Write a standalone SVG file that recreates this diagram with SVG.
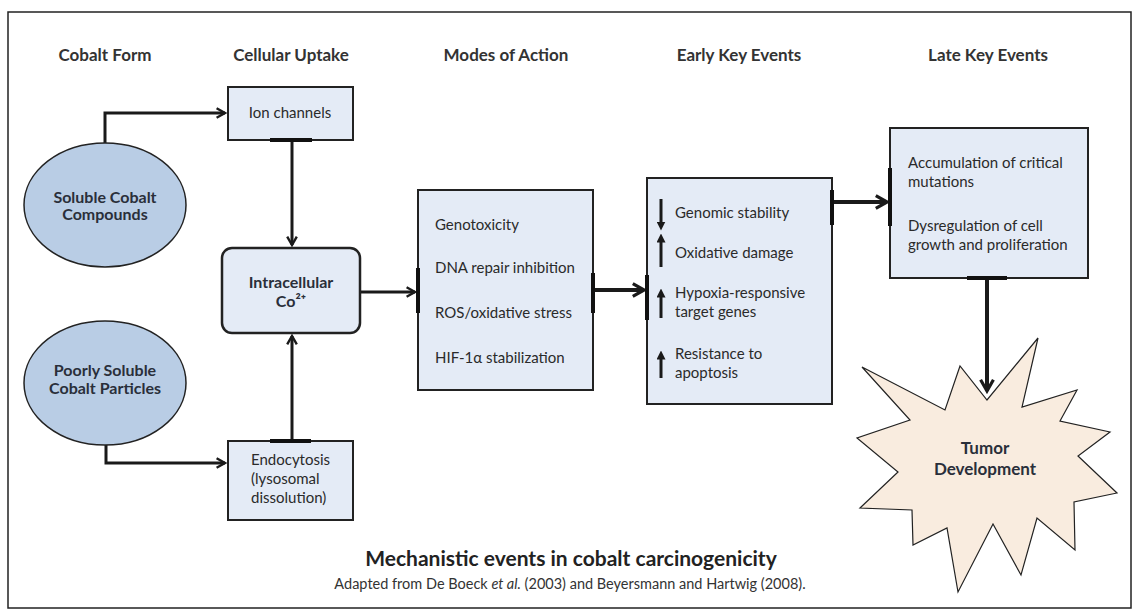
<svg xmlns="http://www.w3.org/2000/svg" width="1135" height="610" viewBox="0 0 1135 610">
<style>
text{font-family:Lato,"Open Sans","Liberation Sans",sans-serif;fill:#2a2a2a}
.hdr{font-size:17px;font-weight:bold;text-anchor:middle;fill:#333}
.box{fill:#e4ebf6;stroke:#222;stroke-width:2}
.circ{fill:#b9cde5;stroke:#222;stroke-width:1.5}
.lbl{font-size:15px}
.blbl{font-size:16px;font-weight:bold;text-anchor:middle;fill:#2a2f3a}
.mid{text-anchor:middle}
.con{fill:none;stroke:#1a1a1a;stroke-width:3}
.thick{fill:none;stroke:#1a1a1a;stroke-width:4}
.bar{stroke:#111;stroke-width:4}
.ud{stroke:#1a1a1a;stroke-width:3}
</style>
<defs>
<marker id="ah" viewBox="0 0 10 10" refX="8" refY="5" markerWidth="4" markerHeight="4" orient="auto" markerUnits="strokeWidth">
<path d="M1,1 L8,5 L1,9" fill="none" stroke="#1a1a1a" stroke-width="2"/>
</marker>
<marker id="tri" viewBox="0 0 10 10" refX="5" refY="5" markerWidth="3" markerHeight="3" orient="auto" markerUnits="strokeWidth">
<path d="M0,0 L10,5 L0,10 Z" fill="#1a1a1a"/>
</marker>
</defs>
<rect x="8" y="12" width="1123" height="596" fill="#fff" stroke="#222" stroke-width="1.5"/>
<g id="headers">
<text class="hdr" x="105" y="61">Cobalt Form</text>
<text class="hdr" x="291" y="61">Cellular Uptake</text>
<text class="hdr" x="506" y="61">Modes of Action</text>
<text class="hdr" x="739" y="61">Early Key Events</text>
<text class="hdr" x="988" y="61">Late Key Events</text>
</g>
<g id="connectors">
<path class="con" d="M105,143 V113 H225" marker-end="url(#ah)"/>
<path class="con" d="M292,140 V245" marker-end="url(#ah)"/>
<path class="con" d="M106,445 V463 H225" marker-end="url(#ah)"/>
<path class="con" d="M292,441 V336" marker-end="url(#ah)"/>
<path class="con" d="M360,292 H415" marker-end="url(#ah)"/>
<path class="thick" d="M593,290 H644" marker-end="url(#ah)"/>
<path class="thick" d="M832,202 H887" marker-end="url(#ah)"/>
<path class="thick" d="M987,278 V391" marker-end="url(#ah)"/>
</g>
<g id="soluble">
<ellipse class="circ" cx="105" cy="205" rx="81" ry="62"/>
<text class="blbl" x="105" y="203">Soluble Cobalt</text>
<text class="blbl" x="105" y="220">Compounds</text>
</g>
<g id="poorly">
<ellipse class="circ" cx="105" cy="383" rx="81" ry="62"/>
<text class="blbl" x="105" y="376">Poorly Soluble</text>
<text class="blbl" x="105" y="394">Cobalt Particles</text>
</g>
<g id="ion">
<rect class="box" x="228" y="87" width="125" height="53"/>
<line class="bar" x1="270" y1="140" x2="312" y2="140"/>
<text class="lbl mid" x="290" y="118">Ion channels</text>
</g>
<g id="intracellular">
<rect class="box" x="222" y="248" width="138" height="85" rx="10" style="stroke-width:2.5"/>
<text class="blbl" x="291" y="288">Intracellular</text>
<text class="blbl" x="291" y="307">Co²⁺</text>
</g>
<g id="endocytosis">
<rect class="box" x="228" y="441" width="125" height="79"/>
<line class="bar" x1="270" y1="441" x2="311" y2="441"/>
<text class="lbl" x="251" y="465">Endocytosis</text>
<text class="lbl" x="251" y="484">(lysosomal</text>
<text class="lbl" x="251" y="503">dissolution)</text>
</g>
<g id="modes">
<rect class="box" x="418" y="190" width="175" height="200"/>
<line class="bar" x1="418" y1="268" x2="418" y2="313"/>
<line class="bar" x1="593" y1="273" x2="593" y2="313"/>
<text class="lbl" x="435" y="230">Genotoxicity</text>
<text class="lbl" x="435" y="273">DNA repair inhibition</text>
<text class="lbl" x="435" y="318">ROS/oxidative stress</text>
<text class="lbl" x="435" y="363">HIF-1α   stabilization</text>
</g>
<g id="early">
<rect class="box" x="647" y="178" width="185" height="226"/>
<line class="bar" x1="647" y1="275" x2="647" y2="320"/>
<line class="bar" x1="832" y1="190" x2="832" y2="225"/>
<line class="ud" x1="661" y1="199" x2="661" y2="226" marker-end="url(#tri)"/>
<line class="ud" x1="661" y1="267" x2="661" y2="238" marker-end="url(#tri)"/>
<line class="ud" x1="661" y1="318" x2="661" y2="293" marker-end="url(#tri)"/>
<line class="ud" x1="661" y1="378" x2="661" y2="355" marker-end="url(#tri)"/>
<text class="lbl" x="675" y="218">Genomic stability</text>
<text class="lbl" x="675" y="258">Oxidative damage</text>
<text class="lbl" x="675" y="298">Hypoxia-responsive</text>
<text class="lbl" x="675" y="317">target genes</text>
<text class="lbl" x="675" y="359">Resistance to</text>
<text class="lbl" x="675" y="378">apoptosis</text>
</g>
<g id="late">
<rect class="box" x="890" y="128" width="198" height="150"/>
<line class="bar" x1="890" y1="168" x2="890" y2="226"/>
<line class="bar" x1="967" y1="278" x2="1007" y2="278"/>
<text class="lbl" x="908" y="168">Accumulation of critical</text>
<text class="lbl" x="908" y="187">mutations</text>
<text class="lbl" x="908" y="231">Dysregulation of cell</text>
<text class="lbl" x="908" y="250">growth and proliferation</text>
</g>
<g id="tumor">
<path d="M862,367 L945,410 L960,366 L987,400 L1038,338 L1022,407 L1077,390 L1060,421 L1110,432 L1078,456 L1117,493 L1074,502 L1075,550 L1037,518 L1021,575 L993,524 L958,592 L947,528 L913,545 L912,510 L860,508 L898,472 L857,438 L910,420 Z" fill="#f9ecdf" stroke="#222" stroke-width="1.2" stroke-linejoin="miter"/>
<text class="blbl" x="985" y="454" style="font-size:17px">Tumor</text>
<text class="blbl" x="985" y="475" style="font-size:17px">Development</text>
</g>
<g id="caption">
<text x="571" y="566" text-anchor="middle" style="font-size:21px;font-weight:bold;fill:#222">Mechanistic events in cobalt carcinogenicity</text>
<text x="570" y="589" text-anchor="middle" style="font-size:14.5px;fill:#333">Adapted from De Boeck <tspan font-style="italic">et al.</tspan> (2003) and Beyersmann and Hartwig (2008).</text>
</g>
</svg>
